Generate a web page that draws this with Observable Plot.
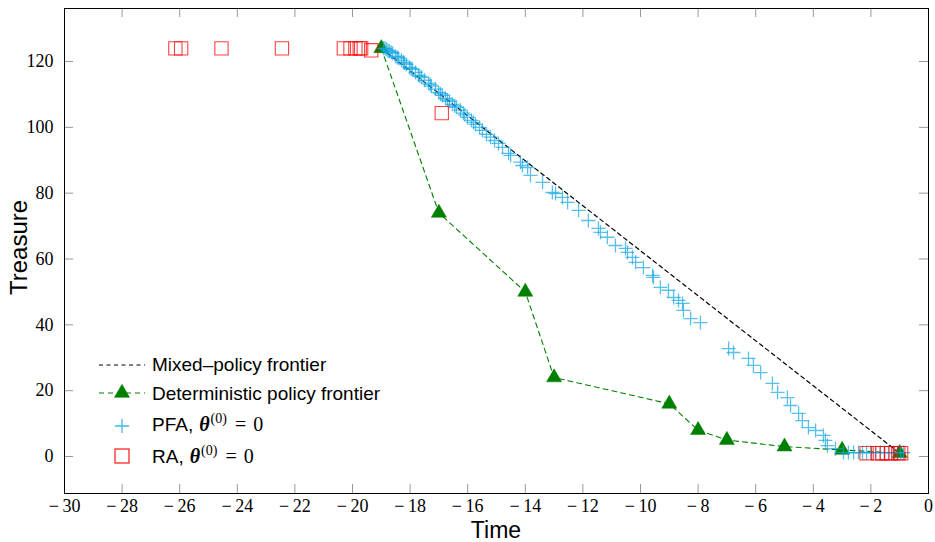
<!DOCTYPE html>
<html>
<head>
<meta charset="utf-8">
<script src="https://cdn.jsdelivr.net/npm/d3@7"></script>
<script src="https://cdn.jsdelivr.net/npm/@observablehq/plot@0.6"></script>
<style>
  body { margin: 0; background: #fff; }
  svg { display: block; }
</style>
</head>
<body>
<div id="chart"></div>
<script>
// Deterministic Pareto frontier (time, treasure)
const frontierTime = [-19, -17, -14, -13, -9, -8, -7, -5, -3, -1];
const frontierTreasure = [124, 74, 50, 24, 16, 8, 5, 3, 2, 1];

// Mixed-policy frontier: convex hull of the deterministic one
const mixedTime = [-19, -1];
const mixedTreasure = [124, 1];

// Policies found by PFA
const pfaTime = [
  -18.92, -18.87, -18.82, -18.77, -18.72, -18.66, -18.61, -18.51, -18.45, -18.40,
  -18.30, -18.23, -18.20, -18.13, -18.02, -17.97, -17.92, -17.81, -17.71, -17.66,
  -17.60, -17.50, -17.36, -17.30, -17.26, -17.12, -17.01, -16.95, -16.88, -16.77,
  -16.70, -16.63, -16.53, -16.45, -16.39, -16.25, -16.15, -16.10, -16.01, -15.87,
  -15.80, -15.73, -15.59, -15.49, -15.35, -15.21, -15.07, -14.93, -14.79,
  -14.58, -14.51, -14.17, -14.10, -13.92, -13.82, -13.40, -13.06, -12.95, -12.71,
  -12.53, -12.15, -11.81, -11.46, -11.39, -11.15, -10.87, -10.52, -10.45, -10.28,
  -10.17, -9.90,
  -9.58, -9.55, -9.31, -9.03, -8.85, -8.68, -8.54, -8.51, -8.26, -7.92,
  -6.94, -6.77, -6.25, -6.08, -5.83, -5.42, -5.24, -4.90, -4.79, -4.51,
  -4.38, -4.17, -3.92, -3.65, -3.58, -3.51, -3.23,
  -2.95, -2.78, -2.60, -2.43, -2.29, -2.15, -2.01, -1.84, -1.67, -1.53,
  -1.39, -1.22, -1.08, -0.97, -0.87
];
const pfaTreasure = [
  124.0, 124.0, 123.7, 123.3, 123.1, 122.8, 122.5, 121.6, 121.3, 121.0,
  120.4, 119.8, 119.5, 119.1, 118.2, 117.9, 117.6, 116.7, 115.8, 115.5,
  115.2, 114.3, 113.4, 113.0, 112.5, 111.6, 110.6, 110.2, 109.7, 108.8,
  108.3, 107.9, 107.0, 106.5, 106.1, 105.2, 104.3, 103.8, 103.0, 102.1,
  101.5, 100.9, 100.0, 99.1, 97.9, 97.0, 96.0, 95.1, 93.9,
  92.1, 91.5, 89.4, 88.4, 87.8, 85.4, 83.3, 80.2, 79.9, 78.7,
  77.2, 74.8, 71.7, 69.3, 68.1, 66.6, 64.1, 63.2, 62.0, 60.5,
  59.0, 57.4,
  55.0, 54.4, 51.4, 50.5, 48.3, 47.4, 46.5, 44.4, 41.9, 40.7,
  32.8, 31.6, 29.8, 27.7, 25.5, 22.2, 19.5, 17.9, 15.5, 13.1,
  10.9, 8.8, 7.9, 6.4, 4.9, 3.3, 2.4,
  1.2, 1.2, 1.2, 1.2, 1.2, 1.2, 1.2, 1.2, 1.2, 1.2,
  1.2, 1.2, 1.2, 1.2, 1.2
];

// Policies found by RA
const raTime = [-26.15, -25.95, -24.55, -22.45, -20.3, -20.07, -19.9, -19.75, -19.7, -19.35,
                -16.9, -2.15, -1.75, -1.6, -1.45, -1.3, -1.05, -0.95];
const raTreasure = [124, 124, 124, 124, 124, 124, 124, 124, 124, 123.4,
                    104.3, 1, 1, 1, 1, 1, 1, 1];

// Axis ticks
const xTicks = [-30, -28, -26, -24, -22, -20, -18, -16, -14, -12, -10, -8, -6, -4, -2, 0];
const yTicks = [0, 20, 40, 60, 80, 100, 120];

const zip = (xs, ys) => xs.map((x, i) => ({time: x, treasure: ys[i]}));
const frontier = zip(frontierTime, frontierTreasure);
const mixed = zip(mixedTime, mixedTreasure);
const pfa = zip(pfaTime, pfaTreasure);
const ra = zip(raTime, raTreasure);

const W = 935, H = 542;
const mL = 64, mR = 7, mT = 8, mB = 49;
const innerW = W - mL - mR, innerH = H - mT - mB;
const tickLen = 9;
const GREEN = "#008000", CYAN = "#12a5e3", RED = "#ff0000";
const SANS = "'Liberation Sans', Arial, sans-serif";
const SERIF = "'Liberation Serif', 'Times New Roman', serif";
const fmt = d => d < 0 ? "\u2212\u2009" + (-d) : String(d);

const chart = Plot.plot({
  width: W, height: H,
  marginLeft: mL, marginRight: mR, marginTop: mT, marginBottom: mB,
  x: {domain: [-30, 0], label: null},
  y: {domain: [-11.24, 136.1], label: null},
  style: {fontFamily: SERIF, fontSize: "18px", background: "#fff", color: "#000"},
  marks: [
    // tick marks pointing inward on all four sides
    Plot.tickX(xTicks, {x: d => d, insetTop: innerH - tickLen, stroke: "#999"}),
    Plot.tickX(xTicks, {x: d => d, insetBottom: innerH - tickLen, stroke: "#999"}),
    Plot.tickY(yTicks, {y: d => d, insetRight: innerW - tickLen, stroke: "#999"}),
    Plot.tickY(yTicks, {y: d => d, insetLeft: innerW - tickLen, stroke: "#999"}),
    Plot.axisX(xTicks, {tickSize: 0, tickPadding: 6, tickFormat: fmt, label: null}),
    Plot.axisY(yTicks, {tickSize: 0, tickPadding: 11, label: null}),
    Plot.line(mixed, {x: "time", y: "treasure", stroke: "#000", strokeWidth: 1.2, strokeDasharray: "4,3.5"}),
    Plot.line(frontier, {x: "time", y: "treasure", stroke: GREEN, strokeWidth: 1.1, strokeDasharray: "5,4"}),
    Plot.dot(frontier, {x: "time", y: "treasure", symbol: "triangle", r: 5.6, fill: GREEN, stroke: GREEN, strokeWidth: 0.5}),
    Plot.dot(pfa, {x: "time", y: "treasure", symbol: "plus", r: 4.6, stroke: CYAN, strokeWidth: 1.3, strokeOpacity: 0.7}),
    Plot.dot(ra, {x: "time", y: "treasure", symbol: "square", r: 7.5, fill: "none", stroke: RED, strokeWidth: 1.1, strokeOpacity: 0.75}),
    Plot.frame({stroke: "#000", strokeWidth: 1})
  ]
});

const svg = d3.select(chart);

// Axis titles
svg.append("text")
  .attr("x", mL + innerW / 2).attr("y", 538)
  .attr("text-anchor", "middle")
  .attr("font-family", SANS).attr("font-size", 23)
  .text("Time");
svg.append("text")
  .attr("transform", `translate(27,${mT + innerH / 2 - 3}) rotate(-90)`)
  .attr("text-anchor", "middle")
  .attr("font-family", SANS).attr("font-size", 24)
  .text("Treasure");

// Legend (bottom-left, inside the axes)
const lg = svg.append("g")
  .attr("font-family", SANS).attr("font-size", 19)
  .attr("text-anchor", "start").attr("fill", "#000");
const lx0 = 99, lx1 = 145, lcx = 122, tx = 152;

lg.append("line").attr("x1", lx0).attr("x2", lx1).attr("y1", 365).attr("y2", 365)
  .attr("stroke", "#000").attr("stroke-width", 1.2).attr("stroke-dasharray", "4,3.5");
lg.append("text").attr("x", tx).attr("y", 370.5).text("Mixed\u2013policy frontier");

lg.append("line").attr("x1", lx0).attr("x2", lx1).attr("y1", 393).attr("y2", 393)
  .attr("stroke", GREEN).attr("stroke-width", 1.1).attr("stroke-dasharray", "5,4");
lg.append("path").attr("transform", `translate(${lcx},393)`)
  .attr("d", d3.symbol(d3.symbolTriangle, 98)())
  .attr("fill", GREEN).attr("stroke", GREEN).attr("stroke-width", 0.5);
lg.append("text").attr("x", tx).attr("y", 399.5).text("Deterministic policy frontier");

lg.append("path").attr("transform", `translate(${lcx},426)`)
  .attr("d", d3.symbol(d3.symbolPlus, 68)())
  .attr("fill", "none").attr("stroke", CYAN).attr("stroke-width", 1.3).attr("stroke-opacity", 0.8);

lg.append("rect").attr("x", lcx - 7).attr("y", 449).attr("width", 14).attr("height", 14)
  .attr("fill", "none").attr("stroke", RED).attr("stroke-width", 1.1);

function mathLabel(y, prefix) {
  const t = lg.append("text").attr("x", tx).attr("y", y);
  t.append("tspan").text(prefix);
  t.append("tspan").attr("dx", 6).attr("font-family", SERIF).attr("font-weight", "bold")
    .attr("font-style", "italic").attr("font-size", 20).text("\u03b8");
  t.append("tspan").attr("dx", 1).attr("dy", -8).attr("font-family", SERIF).attr("font-size", 14).text("(0)");
  t.append("tspan").attr("dx", 8).attr("dy", 8).attr("font-family", SERIF).attr("font-size", 20).text("=");
  t.append("tspan").attr("dx", 7).attr("font-family", SERIF).attr("font-size", 20).text("0");
}
mathLabel(431, "PFA,");
mathLabel(463, "RA,");

document.getElementById("chart").appendChild(chart);
</script>
</body>
</html>
